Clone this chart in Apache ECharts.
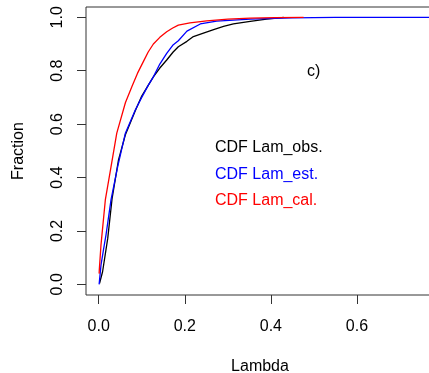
<!DOCTYPE html>
<html>
<head>
<meta charset="utf-8">
<script src="https://cdn.jsdelivr.net/npm/echarts@6/dist/echarts.min.js"></script>
<style>
  html, body { margin: 0; padding: 0; background: #fff; }
  #chart { width: 429px; height: 373px; }
</style>
</head>
<body>
<div id="chart"></div>
<script>
// values
var obsX = [0.002, 0.009, 0.021, 0.031, 0.046, 0.062, 0.085, 0.1, 0.115, 0.127, 0.142, 0.158, 0.173, 0.185, 0.205, 0.22, 0.245, 0.267, 0.29, 0.313, 0.352, 0.39, 0.43];
var obsY = [0.004, 0.047, 0.172, 0.32, 0.466, 0.56, 0.65, 0.705, 0.745, 0.777, 0.81, 0.84, 0.87, 0.89, 0.91, 0.928, 0.942, 0.954, 0.966, 0.975, 0.985, 0.993, 1.0];

var estX = [0.001, 0.0053, 0.011, 0.017, 0.0286, 0.044, 0.062, 0.085, 0.1, 0.115, 0.127, 0.142, 0.158, 0.172, 0.185, 0.205, 0.236, 0.274, 0.352, 0.45, 0.55, 0.8];
var estY = [0, 0.072, 0.128, 0.185, 0.316, 0.44, 0.566, 0.653, 0.7, 0.745, 0.777, 0.825, 0.865, 0.895, 0.912, 0.948, 0.975, 0.986, 0.993, 0.998, 1.0, 1.0];

var calX = [0.001, 0.0014, 0.0053, 0.0154, 0.0286, 0.042, 0.062, 0.077, 0.09, 0.104, 0.115, 0.127, 0.142, 0.158, 0.172, 0.185, 0.212, 0.251, 0.3, 0.352, 0.41, 0.476];
var calY = [0.04, 0.054, 0.147, 0.316, 0.44, 0.566, 0.68, 0.74, 0.79, 0.835, 0.87, 0.9, 0.925, 0.946, 0.96, 0.971, 0.979, 0.987, 0.993, 0.997, 0.999, 1.0];

var xTicks = [0, 0.2, 0.4, 0.6];
var yTicks = [0, 0.2, 0.4, 0.6, 0.8, 1.0];

var names = ['CDF Lam_obs.', 'CDF Lam_est.', 'CDF Lam_cal.'];
var colors = ['#000000', '#0000ff', '#ff0000'];

var font = 'Liberation Sans, Arial, sans-serif';

function pairs(xs, ys) {
  return xs.map(function (x, i) { return [x, ys[i]]; });
}

var chart = echarts.init(document.getElementById('chart'));

var seriesData = [pairs(obsX, obsY), pairs(estX, estY), pairs(calX, calY)];

chart.setOption({
  animation: false,
  title: {
    text: 'c)',
    left: 307,
    top: 64,
    textStyle: { fontFamily: font, fontSize: 16, fontWeight: 'normal', color: '#000' },
    padding: 0
  },
  legend: {
    orient: 'vertical',
    left: 210,
    top: 140,
    itemGap: 10.5,
    itemWidth: 0,
    itemHeight: 16,
    icon: 'none',
    selectedMode: false,
    padding: 0,
    data: names.map(function (n, i) {
      return { name: n, icon: 'none', textStyle: { color: colors[i] } };
    }),
    textStyle: { fontFamily: font, fontSize: 16 }
  },
  grid: {
    left: 86,
    top: 7,
    width: 348,
    height: 288,
    show: true,
    borderColor: '#333',
    borderWidth: 1,
    containLabel: false,
    outerBoundsMode: 'none'
  },
  xAxis: {
    type: 'value',
    min: -0.0295,
    max: 0.779,
    name: 'Lambda',
    nameLocation: 'middle',
    nameGap: 64,
    nameTextStyle: { fontFamily: font, fontSize: 16, color: '#000' },
    axisLine: { show: false, onZero: false },
    axisTick: { show: true, customValues: xTicks, length: 9, lineStyle: { color: '#333' } },
    axisLabel: {
      customValues: xTicks,
      margin: 24,
      fontFamily: font,
      fontSize: 16,
      color: '#000',
      formatter: function (v) { return v.toFixed(1); }
    },
    splitLine: { show: false }
  },
  yAxis: {
    type: 'value',
    min: -0.04,
    max: 1.0386,
    name: 'Fraction',
    nameLocation: 'middle',
    nameGap: 59,
    nameTextStyle: { fontFamily: font, fontSize: 16, color: '#000' },
    axisLine: { show: false, onZero: false },
    axisTick: { show: true, customValues: yTicks, length: 9, lineStyle: { color: '#333' } },
    axisLabel: {
      customValues: yTicks,
      rotate: 90,
      margin: 20,
      fontFamily: font,
      fontSize: 16,
      color: '#000',
      formatter: function (v) { return v.toFixed(1); }
    },
    splitLine: { show: false }
  },
  series: seriesData.map(function (d, i) {
    return {
      name: names[i],
      type: 'line',
      data: d,
      showSymbol: false,
      symbol: 'none',
      clip: true,
      itemStyle: { color: colors[i] },
      lineStyle: { color: colors[i], width: 1.3 }
    };
  })
});
</script>
</body>
</html>
